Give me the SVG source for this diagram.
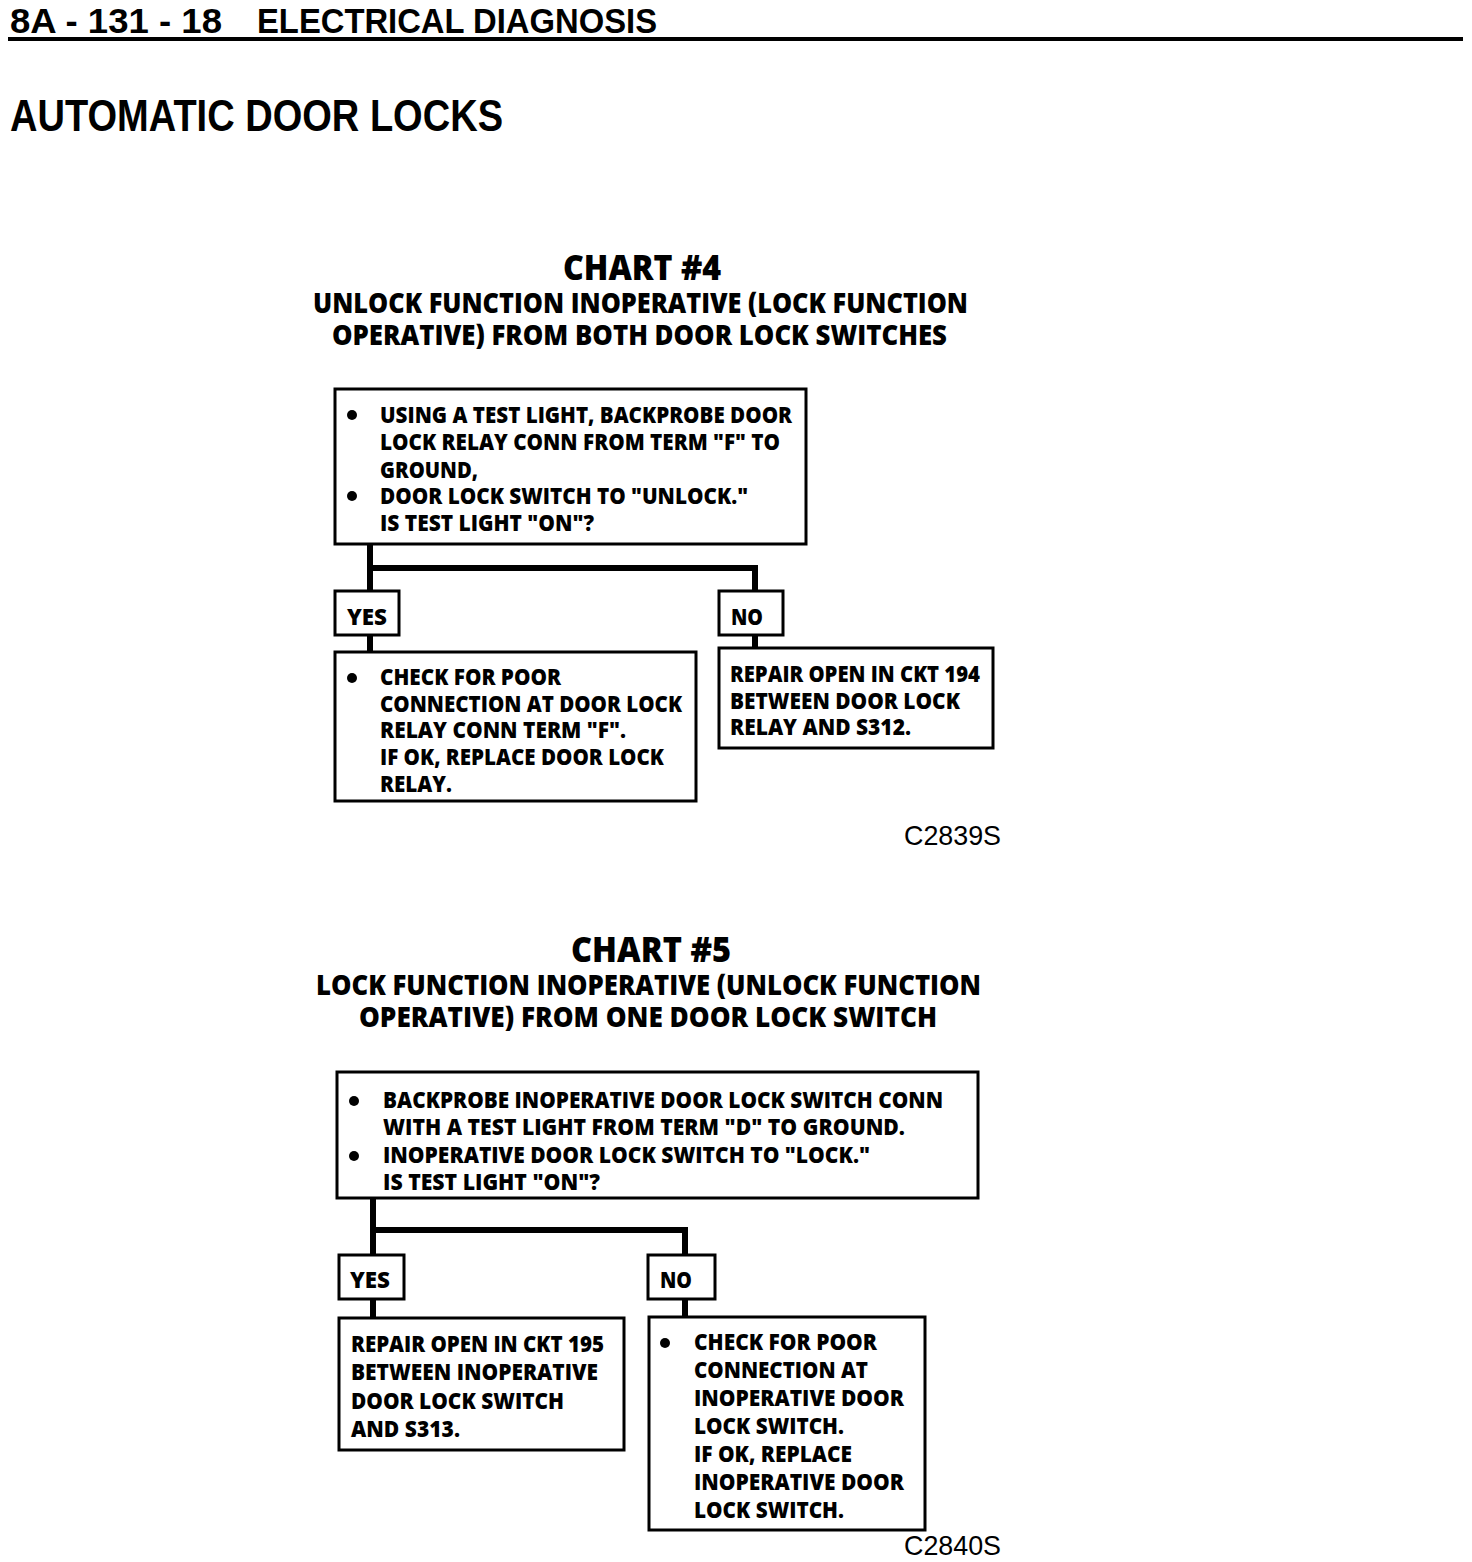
<svg xmlns="http://www.w3.org/2000/svg" width="1472" height="1562" viewBox="0 0 1472 1562">
<style>
.hdr{font-family:"Liberation Sans",Arial,sans-serif;font-weight:700;fill:#000}
.t{font-family:"Open Sans","Noto Sans",sans-serif;font-weight:800;fill:#000}
.ct{font-size:35px}
.st{font-size:29px}
.bt{font-size:23px}
.box{fill:#fff;stroke:#000;stroke-width:3}
.con{fill:none;stroke:#000;stroke-width:6}
.code{font-family:"Liberation Sans",Arial,sans-serif;font-size:28px;fill:#000}
</style>
<rect width="1472" height="1562" fill="#fff"/>
<g id="header">
<text class="hdr" x="10" y="33" font-size="35" textLength="212" lengthAdjust="spacingAndGlyphs">8A - 131 - 18</text>
<text class="hdr" x="257" y="33" font-size="35" textLength="400" lengthAdjust="spacingAndGlyphs">ELECTRICAL DIAGNOSIS</text>
<rect x="8" y="37" width="1455" height="4" fill="#000"/>
<text class="hdr" x="10" y="131" font-size="45" textLength="493" lengthAdjust="spacingAndGlyphs">AUTOMATIC DOOR LOCKS</text>
</g>
<g id="chart4-title">
<text class="t ct" x="563" y="280" textLength="158" lengthAdjust="spacingAndGlyphs">CHART #4</text>
<text class="t st"><tspan x="313" y="313" textLength="655" lengthAdjust="spacingAndGlyphs">UNLOCK FUNCTION INOPERATIVE (LOCK FUNCTION</tspan><tspan x="332" y="345" textLength="615" lengthAdjust="spacingAndGlyphs">OPERATIVE) FROM BOTH DOOR LOCK SWITCHES</tspan></text>
</g>
<g id="connectors">
<polyline class="con" points="370,544 370,591"/>
<polyline class="con" points="370,568 755,568 755,591"/>
<polyline class="con" points="370,635 370,652"/>
<polyline class="con" points="755,635 755,648"/>
<polyline class="con" points="373,1198 373,1255"/>
<polyline class="con" points="373,1230 685,1230 685,1255"/>
<polyline class="con" points="373,1299 373,1318"/>
<polyline class="con" points="685,1299 685,1317"/>
</g>
<g id="c4-question">
<rect class="box" x="335" y="389" width="471" height="155"/>
<circle cx="352" cy="415" r="5"/>
<circle cx="352" cy="496" r="5"/>
<text class="t bt"><tspan x="380" y="423" textLength="412" lengthAdjust="spacingAndGlyphs">USING A TEST LIGHT, BACKPROBE DOOR</tspan><tspan x="380" y="450" textLength="400" lengthAdjust="spacingAndGlyphs">LOCK RELAY CONN FROM TERM "F" TO</tspan><tspan x="380" y="478" textLength="98" lengthAdjust="spacingAndGlyphs">GROUND,</tspan><tspan x="380" y="504" textLength="368" lengthAdjust="spacingAndGlyphs">DOOR LOCK SWITCH TO "UNLOCK."</tspan><tspan x="380" y="531" textLength="214" lengthAdjust="spacingAndGlyphs">IS TEST LIGHT "ON"?</tspan></text>
</g>
<g id="c4-yes">
<rect class="box" x="335" y="591" width="64" height="44"/>
<text class="t bt" x="347" y="625" textLength="40" lengthAdjust="spacingAndGlyphs">YES</text>
</g>
<g id="c4-no">
<rect class="box" x="719" y="591" width="64" height="44"/>
<text class="t bt" x="731" y="625" textLength="32" lengthAdjust="spacingAndGlyphs">NO</text>
</g>
<g id="c4-yes-result">
<rect class="box" x="335" y="652" width="361" height="149"/>
<circle cx="352" cy="678" r="5"/>
<text class="t bt"><tspan x="380" y="685" textLength="181" lengthAdjust="spacingAndGlyphs">CHECK FOR POOR</tspan><tspan x="380" y="712" textLength="302" lengthAdjust="spacingAndGlyphs">CONNECTION AT DOOR LOCK</tspan><tspan x="380" y="738" textLength="246" lengthAdjust="spacingAndGlyphs">RELAY CONN TERM "F".</tspan><tspan x="380" y="765" textLength="284" lengthAdjust="spacingAndGlyphs">IF OK, REPLACE DOOR LOCK</tspan><tspan x="380" y="792" textLength="72" lengthAdjust="spacingAndGlyphs">RELAY.</tspan></text>
</g>
<g id="c4-no-result">
<rect class="box" x="719" y="648" width="274" height="100"/>
<text class="t bt"><tspan x="730" y="682" textLength="250" lengthAdjust="spacingAndGlyphs">REPAIR OPEN IN CKT 194</tspan><tspan x="730" y="709" textLength="230" lengthAdjust="spacingAndGlyphs">BETWEEN DOOR LOCK</tspan><tspan x="730" y="735" textLength="181" lengthAdjust="spacingAndGlyphs">RELAY AND S312.</tspan></text>
</g>
<text class="code" x="904" y="845" textLength="97" lengthAdjust="spacingAndGlyphs">C2839S</text>
<g id="chart5-title">
<text class="t ct" x="571" y="962" textLength="160" lengthAdjust="spacingAndGlyphs">CHART #5</text>
<text class="t st"><tspan x="316" y="995" textLength="665" lengthAdjust="spacingAndGlyphs">LOCK FUNCTION INOPERATIVE (UNLOCK FUNCTION</tspan><tspan x="359" y="1027" textLength="578" lengthAdjust="spacingAndGlyphs">OPERATIVE) FROM ONE DOOR LOCK SWITCH</tspan></text>
</g>
<g id="c5-question">
<rect class="box" x="337" y="1072" width="641" height="126"/>
<circle cx="354" cy="1101" r="5"/>
<circle cx="354" cy="1156" r="5"/>
<text class="t bt"><tspan x="383" y="1108" textLength="560" lengthAdjust="spacingAndGlyphs">BACKPROBE INOPERATIVE DOOR LOCK SWITCH CONN</tspan><tspan x="383" y="1135" textLength="522" lengthAdjust="spacingAndGlyphs">WITH A TEST LIGHT FROM TERM "D" TO GROUND.</tspan><tspan x="383" y="1163" textLength="487" lengthAdjust="spacingAndGlyphs">INOPERATIVE DOOR LOCK SWITCH TO "LOCK."</tspan><tspan x="383" y="1190" textLength="217" lengthAdjust="spacingAndGlyphs">IS TEST LIGHT "ON"?</tspan></text>
</g>
<g id="c5-yes">
<rect class="box" x="339" y="1255" width="65" height="44"/>
<text class="t bt" x="350" y="1288" textLength="40" lengthAdjust="spacingAndGlyphs">YES</text>
</g>
<g id="c5-no">
<rect class="box" x="648" y="1255" width="67" height="44"/>
<text class="t bt" x="660" y="1288" textLength="32" lengthAdjust="spacingAndGlyphs">NO</text>
</g>
<g id="c5-yes-result">
<rect class="box" x="339" y="1318" width="285" height="132"/>
<text class="t bt"><tspan x="351" y="1352" textLength="253" lengthAdjust="spacingAndGlyphs">REPAIR OPEN IN CKT 195</tspan><tspan x="351" y="1380" textLength="247" lengthAdjust="spacingAndGlyphs">BETWEEN INOPERATIVE</tspan><tspan x="351" y="1409" textLength="213" lengthAdjust="spacingAndGlyphs">DOOR LOCK SWITCH</tspan><tspan x="351" y="1437" textLength="109" lengthAdjust="spacingAndGlyphs">AND S313.</tspan></text>
</g>
<g id="c5-no-result">
<rect class="box" x="649" y="1317" width="276" height="213"/>
<circle cx="665" cy="1343" r="5"/>
<text class="t bt"><tspan x="694" y="1350" textLength="183" lengthAdjust="spacingAndGlyphs">CHECK FOR POOR</tspan><tspan x="694" y="1378" textLength="174" lengthAdjust="spacingAndGlyphs">CONNECTION AT</tspan><tspan x="694" y="1406" textLength="210" lengthAdjust="spacingAndGlyphs">INOPERATIVE DOOR</tspan><tspan x="694" y="1434" textLength="150" lengthAdjust="spacingAndGlyphs">LOCK SWITCH.</tspan><tspan x="694" y="1462" textLength="158" lengthAdjust="spacingAndGlyphs">IF OK, REPLACE</tspan><tspan x="694" y="1490" textLength="210" lengthAdjust="spacingAndGlyphs">INOPERATIVE DOOR</tspan><tspan x="694" y="1518" textLength="150" lengthAdjust="spacingAndGlyphs">LOCK SWITCH.</tspan></text>
</g>
<text class="code" x="904" y="1555" textLength="97" lengthAdjust="spacingAndGlyphs">C2840S</text>
</svg>
